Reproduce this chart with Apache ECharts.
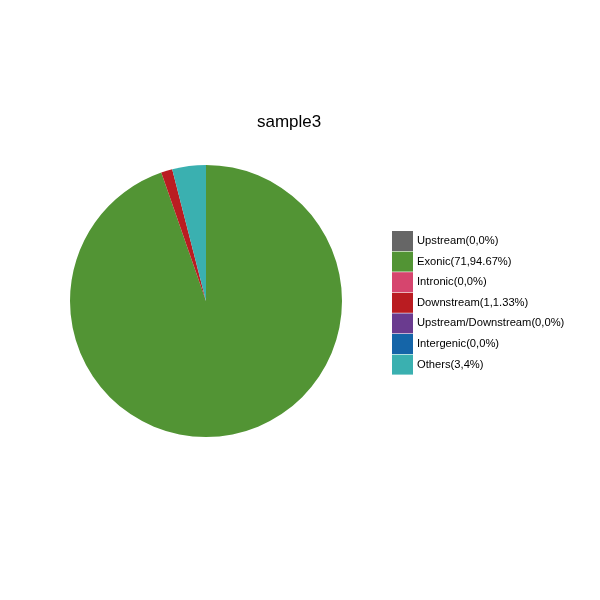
<!DOCTYPE html>
<html>
<head>
<meta charset="utf-8">
<script src="https://cdn.jsdelivr.net/npm/echarts@6/dist/echarts.min.js"></script>
<style>html,body{margin:0;padding:0;background:#fff}#c{width:600px;height:600px}</style>
</head>
<body>
<div id="c"></div>
<script>
const categories = ['Upstream','Exonic','Intronic','Downstream','Upstream/Downstream','Intergenic','Others'];
const counts = [0, 71, 0, 1, 0, 0, 3];
const percents = ['0%', '94.67%', '0%', '1.33%', '0%', '0%', '4%'];
const colors = ['#666666','#529434','#D6456E','#BA1C21','#6A3B8F','#1565A8','#3AB0B0'];
const titleText = 'sample3';

const labels = categories.map((c, i) => c + '(' + counts[i] + ',' + percents[i] + ')');
const chart = echarts.init(document.getElementById('c'), null, {renderer: 'canvas'});
chart.setOption({
  animation: false,
  title: {
    text: titleText, left: 257, top: 114, padding: 0,
    textStyle: {fontFamily: 'Liberation Sans', fontSize: 17, fontWeight: 'normal', color: '#000'}
  },
  legend: {
    orient: 'vertical', left: 392, top: 231, padding: 0,
    itemWidth: 21, itemHeight: 20, itemGap: 0.6,
    icon: 'rect',
    selectedMode: false,
    data: labels,
    textStyle: {fontFamily: 'Liberation Sans', fontSize: 11.2, color: '#000', padding: [3,0,0,-1]}
  },
  series: [{
    type: 'pie',
    center: [206, 301],
    radius: 136,
    startAngle: 90,
    clockwise: true,
    avoidLabelOverlap: false,
    label: {show: false},
    labelLine: {show: false},
    emphasis: {disabled: true},
    itemStyle: {borderWidth: 0},
    data: labels.map((l, i) => ({name: l, value: counts[i], itemStyle: {color: colors[i]}}))
  }]
});
</script>
</body>
</html>
